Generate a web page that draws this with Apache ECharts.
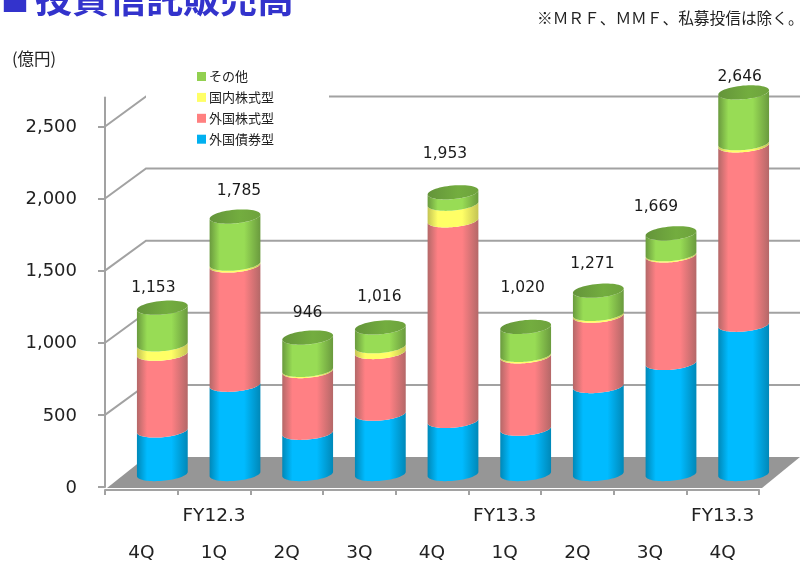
<!DOCTYPE html>
<html><head><meta charset="utf-8">
<style>html,body{margin:0;padding:0;background:#fff}#c{width:800px;height:563px}</style>
<script src="https://cdn.jsdelivr.net/npm/echarts@6/dist/echarts.min.js"></script>
</head><body><div id="c"></div>
<script>
const quarters = ['4Q','1Q','2Q','3Q','4Q','1Q','2Q','3Q','4Q'];
const fiscal = ['','FY12.3','','','','FY13.3','','','FY13.3'];
const foreignBond = [302,619,286,418,368,314,610,770,1035];
const foreignStock = [532,827,428,428,1391,502,488,746,1244];
const domesticStock = [65,12,8,40,115,10,12,8,15];
const other = [254,327,224,130,79,194,161,145,352];
const totals = [1153,1785,946,1016,1953,1020,1271,1669,2646];
const yTicks = [0,500,1000,1500,2000,2500];
const wallTicks = [500,1000,1500,2000,2500];

const labelShift = [[-9,-20],[4,-26],[0,-25],[-1,-31],[-8,-38],[-3,-39],[-6,-27],[-15,-26],[-4,-15]];
const FONT = '"DejaVu Sans", Verdana, sans-serif';
const CJK = '"Noto Sans CJK JP", sans-serif';
const GRAY = '#A2A2A2';
const DEPTH_X = 41, DEPTH_Y = 30, BAR_X = 21, BAR_Y = 13, RX = 25.5, RY = 6.8, SIN_A = 0.09, COS_A = 0.996;

const seriesDefs = [
  {name:'外国債券型', values:foreignBond, color:'#00B0F0', edge:'#0088B8', mid:'#00BBFF'},
  {name:'外国株式型', values:foreignStock, color:'#FF8080', edge:'#B46868', mid:'#FF8084'},
  {name:'国内株式型', values:domesticStock, color:'#FFFF66', edge:'#C4C454', mid:'#FFFF66'},
  {name:'その他', values:other, color:'#92D050', edge:'#6A9A3E', mid:'#98DC55'}
];

function arc(cx, cy, from, to, n) {
  const pts = [];
  for (let k = 0; k <= n; k++) {
    const t = from + (to - from) * k / n;
    const c = Math.cos(t), s = Math.sin(t);
    pts.push([cx + RX * c * COS_A + RY * s * SIN_A, cy + RY * s * COS_A - RX * c * SIN_A]);
  }
  return pts;
}
function makeRender(si) {
  const def = seriesDefs[si];
  return function (params, api) {
    const i = api.value(0);
    let base = 0;
    for (let s = 0; s < si; s++) base += seriesDefs[s].values[i];
    const top = base + api.value(1);
    const p0 = api.coord([i, base]), p1 = api.coord([i, top]);
    const cx = p0[0] + BAR_X, y0 = p0[1] - BAR_Y, y1 = p1[1] - BAR_Y;
    const lower = arc(cx, y0, Math.PI, 0, 40);
    const upper = arc(cx, y1, 0, Math.PI, 40);
    const children = [{
      type: 'polygon', shape: {points: lower.concat(upper)},
      style: {fill: new echarts.graphic.LinearGradient(0,0,1,0,[
        {offset:0,color:def.edge},{offset:.2,color:def.mid},{offset:.68,color:def.mid},{offset:1,color:def.edge}])}
    }];
    if (si === seriesDefs.length - 1) {
      children.push({
        type:'polygon', shape:{points: arc(cx, y1, 0, Math.PI*2, 60)},
        style:{fill:new echarts.graphic.LinearGradient(0,0,1,0,[
          {offset:0,color:'#64943A'},{offset:.6,color:'#73AD3F'},{offset:1,color:'#6EA23D'}])}
      });
      children.push({
        type:'text',
        style:{x:cx+labelShift[i][0], y:y1+labelShift[i][1], text:totals[i].toLocaleString('en-US'),
          font:'15.5px '+FONT, fill:'#1a1a1a', align:'center', verticalAlign:'middle'}
      });
    }
    return {type:'group', children};
  };
}
const barSeries = seriesDefs.map((d, si) => ({
  name: d.name, type:'custom', z: 3, clip:false,
  coordinateSystem:'cartesian2d', itemStyle:{color:d.color},
  encode:{x:0,y:1}, renderItem: makeRender(si),
  data: d.values.map((v,i)=>[i,v])
}));
const floorSeries = {
  type:'custom', z:1, silent:true, clip:false, data:[[0,0]], encode:{x:0,y:1},
  renderItem(params, api){
    const cs = params.coordSys;
    const y = api.coord([0,0])[1];
    const x0 = cs.x, x1 = cs.x + cs.width;
    return {type:'polygon', shape:{points:[[x0+2,y+1],[x0+DEPTH_X,y-DEPTH_Y],[x1+DEPTH_X,y-DEPTH_Y],[x1+3,y+1]]}, style:{fill:'#969696'}};
  }
};
const wallSeries = {
  type:'custom', z:1, silent:true, clip:false, data:wallTicks.map((v,i)=>[i,v]), encode:{x:0,y:1},
  renderItem(params, api){
    const cs = params.coordSys;
    const y = api.coord([0,api.value(1)])[1];
    const x0 = cs.x, x1 = cs.x + cs.width;
    return {type:'polyline', shape:{points:[[x0,y],[x0+DEPTH_X,y-DEPTH_Y],[x1+DEPTH_X,y-DEPTH_Y]]},
      style:{fill:null, stroke:GRAY, lineWidth:2}};
  }
};

const chart = echarts.init(document.getElementById('c'), null, {renderer:'canvas'});
chart.setOption({
  animation:false,
  backgroundColor:'#fff',
  grid:{left:105, top:97.6, width:654, height:389.4, containLabel:false, outerBoundsMode:'none'},
  legend:{
    orient:'vertical', left:146, top:64,
    padding:[6,55,6,51], backgroundColor:'#fff', itemWidth:9, itemHeight:9, itemGap:7.9,
    icon:'rect', data:['その他','国内株式型','外国株式型','外国債券型'],
    textStyle:{fontFamily:CJK, fontSize:13, color:'#222', padding:[0,0,0,-2]}, z:5
  },
  xAxis:{
    type:'category', data:quarters, offset:3,
    axisLine:{onZero:false, lineStyle:{color:GRAY,width:2}},
    axisTick:{show:true, length:5, alignWithLabel:false, lineStyle:{color:GRAY,width:2}},
    axisLabel:{interval:0, margin:8, lineHeight:37, fontSize:18.5, fontFamily:FONT, color:'#222',
      formatter:(v,i)=>fiscal[i]+'\n'+v}
  },
  yAxis:{
    type:'value', min:0, max:2700, interval:500, splitLine:{show:false},
    axisLine:{show:true, lineStyle:{color:GRAY,width:2}},
    axisTick:{show:true, length:7, lineStyle:{color:GRAY,width:2}, customValues:yTicks},
    axisLabel:{margin:28, fontSize:18, fontFamily:FONT, color:'#222', customValues:yTicks,
      verticalAlign:'top', lineHeight:2,
      formatter:v=>Number(v).toLocaleString('en-US')}
  },
  graphic:[
    {type:'text', left:1, top:-13, style:{text:'■', font:'bold 28px '+CJK, fill:'#3333CC'}},
    {type:'text', left:35, top:-20, style:{text:'投資信託販売高', font:'bold 37px '+CJK, fill:'#3333CC'}},
    {type:'text', left:537, top:10, style:{text:'※ＭＲＦ、ＭＭＦ、私募投信は除く。', font:'15.7px '+CJK, fill:'#222'}},
    {type:'text', left:12, top:50, style:{text:'(億円)', font:'16.5px '+CJK, fill:'#222'}}
  ],
  series:[floorSeries, wallSeries].concat(barSeries)
});
</script></body></html>
